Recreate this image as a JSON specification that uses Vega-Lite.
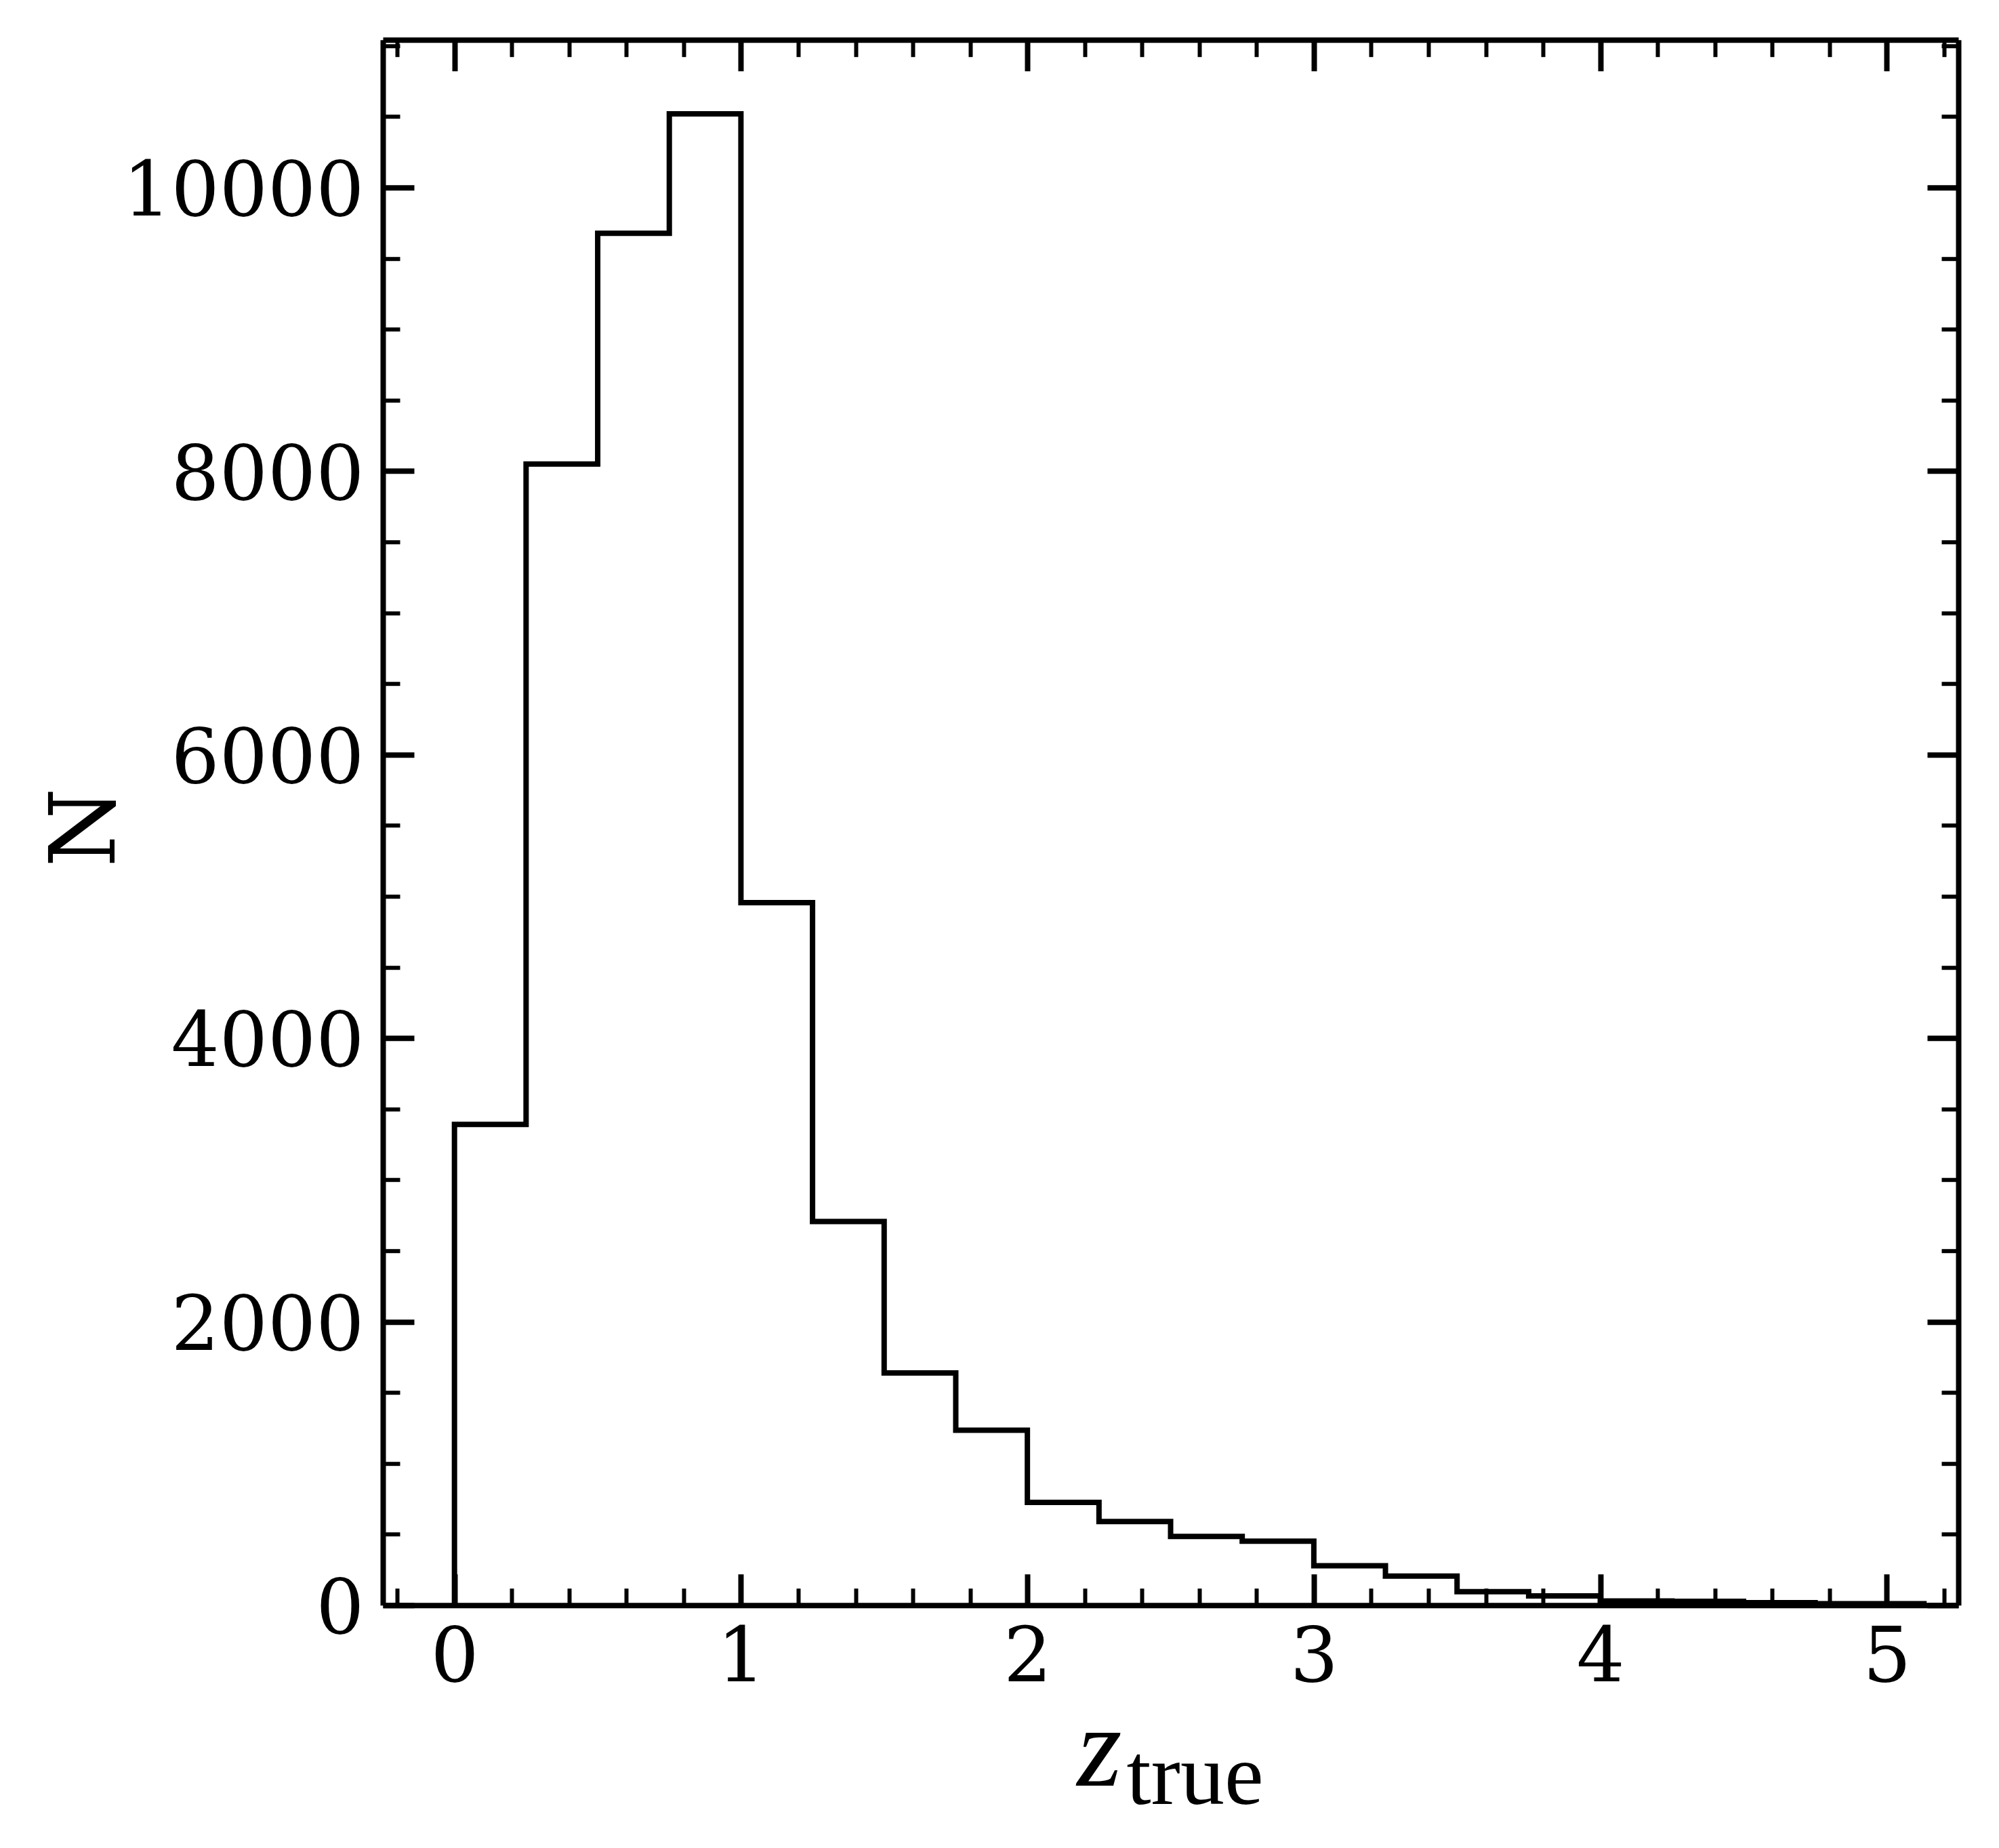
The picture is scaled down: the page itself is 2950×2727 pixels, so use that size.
{
  "$schema": "https://vega.github.io/schema/vega-lite/v6.json",
  "width": 2325,
  "height": 2310,
  "autosize": "none",
  "padding": {"left": 565, "top": 58.7, "right": 60, "bottom": 358.3},
  "background": "white",
  "config": {
    "view": {"stroke": null},
    "axis": {
      "grid": false,
      "domainColor": "black",
      "domainWidth": 8,
      "tickColor": "black",
      "labelColor": "black",
      "titleColor": "black",
      "labelFont": "DejaVu Serif",
      "labelFontSize": 112,
      "labelLimit": 2000,
      "labelFlush": false,
      "labelOverlap": false,
      "titleFontWeight": "normal",
      "titleLimit": 3000
    }
  },
  "data": {
    "values": [
      {"bin_start": 0, "bin_end": 0, "count": 0},
      {"bin_start": 0, "bin_end": 0.25, "count": 3391},
      {"bin_start": 0.25, "bin_end": 0.5, "count": 8049},
      {"bin_start": 0.5, "bin_end": 0.75, "count": 9677},
      {"bin_start": 0.75, "bin_end": 1.0, "count": 10520},
      {"bin_start": 1.0, "bin_end": 1.25, "count": 4956},
      {"bin_start": 1.25, "bin_end": 1.5, "count": 2707},
      {"bin_start": 1.5, "bin_end": 1.75, "count": 1638},
      {"bin_start": 1.75, "bin_end": 2.0, "count": 1234},
      {"bin_start": 2.0, "bin_end": 2.25, "count": 725},
      {"bin_start": 2.25, "bin_end": 2.5, "count": 590},
      {"bin_start": 2.5, "bin_end": 2.75, "count": 485},
      {"bin_start": 2.75, "bin_end": 3.0, "count": 452},
      {"bin_start": 3.0, "bin_end": 3.25, "count": 278},
      {"bin_start": 3.25, "bin_end": 3.5, "count": 205},
      {"bin_start": 3.5, "bin_end": 3.75, "count": 95},
      {"bin_start": 3.75, "bin_end": 4.0, "count": 65},
      {"bin_start": 4.0, "bin_end": 4.25, "count": 30},
      {"bin_start": 4.25, "bin_end": 4.5, "count": 27},
      {"bin_start": 4.5, "bin_end": 4.75, "count": 18},
      {"bin_start": 4.75, "bin_end": 5.13, "count": 10},
      {"bin_start": 5.13, "bin_end": 5.13, "count": 0}
    ]
  },
  "layer": [
    {
      "mark": {"type": "line", "interpolate": "step-before", "color": "black", "strokeWidth": 8, "strokeJoin": "miter", "strokeCap": "butt"},
      "encoding": {
        "x": {
          "field": "bin_end", "type": "quantitative",
          "scale": {"domain": [-0.25, 5.25], "nice": false, "zero": false},
          "axis": {
            "orient": "bottom",
            "values": [-0.2, 0, 0.2, 0.4, 0.6, 0.8, 1, 1.2, 1.4, 1.6, 1.8, 2, 2.2, 2.4, 2.6, 2.8, 3, 3.2, 3.4, 3.6, 3.8, 4, 4.2, 4.4, 4.6, 4.8, 5, 5.2],
            "tickSize": {"condition": {"test": "abs(datum.value - round(datum.value)) < 0.001", "value": -46}, "value": -25},
            "tickWidth": {"condition": {"test": "abs(datum.value - round(datum.value)) < 0.001", "value": 8}, "value": 6},
            "labelExpr": "abs(datum.value - round(datum.value)) < 0.001 ? format(datum.value, 'd') : ''",
            "labelPadding": 70,
            "title": "z",
            "titleFont": "Liberation Serif",
            "titleFontStyle": "italic",
            "titleFontSize": 170,
            "titleX": 1024,
            "titleY": 266,
            "titleAlign": "left",
            "titleBaseline": "alphabetic"
          }
        },
        "y": {
          "field": "count", "type": "quantitative",
          "scale": {"domain": [0, 11042], "nice": false, "zero": false},
          "axis": {
            "orient": "left",
            "values": [0, 500, 1000, 1500, 2000, 2500, 3000, 3500, 4000, 4500, 5000, 5500, 6000, 6500, 7000, 7500, 8000, 8500, 9000, 9500, 10000, 10500, 11000],
            "tickSize": {"condition": {"test": "datum.value % 2000 === 0", "value": -46}, "value": -25},
            "tickWidth": {"condition": {"test": "datum.value % 2000 === 0", "value": 8}, "value": 6},
            "labelExpr": "datum.value % 2000 === 0 ? format(datum.value, 'd') : ''",
            "labelPadding": 74,
            "labelOffset": 7,
            "title": "N",
            "titleFont": "DejaVu Serif",
            "titleFontSize": 134,
            "titleAngle": 270,
            "titleX": -397,
            "titleY": 1162,
            "titleAlign": "center",
            "titleBaseline": "alphabetic"
          }
        }
      }
    },
    {
      "mark": {"type": "line", "interpolate": "step-before", "opacity": 0},
      "encoding": {
        "x": {
          "field": "bin_end", "type": "quantitative",
          "axis": {
            "orient": "top",
            "values": [-0.2, 0, 0.2, 0.4, 0.6, 0.8, 1, 1.2, 1.4, 1.6, 1.8, 2, 2.2, 2.4, 2.6, 2.8, 3, 3.2, 3.4, 3.6, 3.8, 4, 4.2, 4.4, 4.6, 4.8, 5, 5.2],
            "tickSize": {"condition": {"test": "abs(datum.value - round(datum.value)) < 0.001", "value": -46}, "value": -25},
            "tickWidth": {"condition": {"test": "abs(datum.value - round(datum.value)) < 0.001", "value": 8}, "value": 6},
            "labels": false,
            "title": "true",
            "titleFont": "Liberation Serif",
            "titleFontStyle": "normal",
            "titleFontSize": 130,
            "titleX": 1097,
            "titleY": 2603,
            "titleAlign": "left",
            "titleBaseline": "alphabetic"
          }
        },
        "y": {
          "field": "count", "type": "quantitative",
          "axis": {
            "orient": "right",
            "values": [0, 500, 1000, 1500, 2000, 2500, 3000, 3500, 4000, 4500, 5000, 5500, 6000, 6500, 7000, 7500, 8000, 8500, 9000, 9500, 10000, 10500, 11000],
            "tickSize": {"condition": {"test": "datum.value % 2000 === 0", "value": -46}, "value": -25},
            "tickWidth": {"condition": {"test": "datum.value % 2000 === 0", "value": 8}, "value": 6},
            "labels": false,
            "title": null
          }
        }
      }
    }
  ],
  "resolve": {"axis": {"x": "independent", "y": "independent"}}
}
